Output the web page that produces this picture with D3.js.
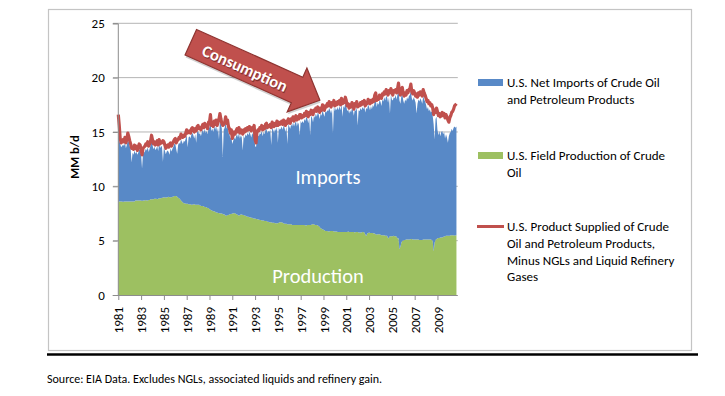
<!DOCTYPE html>
<html><head><meta charset="utf-8">
<script src="https://cdn.jsdelivr.net/npm/d3@7"></script>
<style>body{margin:0;background:#fff}svg{display:block}</style>
</head><body>
<svg id="c" width="725" height="396"></svg>
<script>
const yTicks = [0, 5, 10, 15, 20, 25];
const xTickLabels = ["1981","1983","1985","1987","1989","1991","1993","1995","1997","1999","2001","2003","2005","2007","2009"];
const legendLabels = [
  ["U.S. Net Imports of Crude Oil", "and Petroleum Products"],
  ["U.S. Field Production of Crude", "Oil"],
  ["U.S. Product Supplied of Crude", "Oil and Petroleum Products,", "Minus NGLs and Liquid Refinery", "Gases"]
];
const areaLabels = ["Imports", "Production"];
const arrowLabel = "Consumption";
const yTitle = "MM b/d";
const sourceNote = "Source: EIA Data. Excludes NGLs, associated liquids and refinery gain.";

// monthly, Jan 1981 - Sep 2010 (MM b/d)
const production = [
8.55,8.6,8.6,8.6,8.6,8.55,8.6,8.6,8.6,8.6,8.6,8.6,
8.6,8.6,8.6,8.6,8.6,8.6,8.7,8.7,8.7,8.7,8.7,8.7,
8.7,8.65,8.7,8.7,8.7,8.75,8.7,8.7,8.75,8.75,8.8,8.8,
8.8,8.8,8.85,8.85,8.85,8.8,8.85,8.9,8.9,8.9,8.95,8.95,
9.0,9.0,8.95,9.0,9.0,9.05,9.0,9.0,9.0,9.05,9.05,9.1,
9.1,9.1,9.05,8.95,8.9,8.8,8.7,8.6,8.5,8.45,8.45,8.4,
8.4,8.4,8.35,8.35,8.35,8.3,8.3,8.35,8.35,8.3,8.3,8.3,
8.3,8.3,8.25,8.2,8.2,8.2,8.15,8.1,8.1,8.05,8.0,8.0,
7.9,7.85,7.8,7.75,7.7,7.7,7.65,7.6,7.6,7.55,7.55,7.5,
7.5,7.5,7.45,7.4,7.4,7.3,7.3,7.35,7.35,7.4,7.45,7.45,
7.5,7.5,7.55,7.5,7.45,7.4,7.35,7.3,7.35,7.4,7.4,7.35,
7.35,7.3,7.3,7.25,7.2,7.2,7.15,7.15,7.1,7.1,7.05,7.05,
7.05,7.0,7.0,6.95,6.95,6.9,6.9,6.85,6.85,6.85,6.8,6.8,
6.8,6.75,6.75,6.7,6.7,6.7,6.65,6.65,6.65,6.6,6.6,6.6,
6.6,6.65,6.7,6.7,6.7,6.65,6.6,6.55,6.55,6.55,6.5,6.5,
6.5,6.5,6.5,6.45,6.45,6.45,6.45,6.45,6.45,6.45,6.45,6.45,
6.45,6.45,6.45,6.45,6.45,6.4,6.4,6.45,6.45,6.45,6.45,6.45,
6.5,6.5,6.5,6.45,6.45,6.45,6.4,6.35,6.25,6.15,6.1,6.05,
6.0,5.95,5.9,5.9,5.9,5.85,5.85,5.9,5.9,5.9,5.9,5.85,
5.85,5.85,5.85,5.8,5.8,5.8,5.8,5.8,5.8,5.8,5.8,5.8,
5.8,5.8,5.85,5.8,5.8,5.8,5.8,5.8,5.8,5.75,5.8,5.8,
5.8,5.75,5.75,5.75,5.75,5.8,5.8,5.75,5.6,5.4,5.65,5.7,
5.75,5.7,5.7,5.7,5.7,5.65,5.65,5.6,5.55,5.6,5.6,5.6,
5.55,5.5,5.5,5.5,5.5,5.45,5.45,5.45,5.2,5.3,5.4,5.4,
5.4,5.4,5.45,5.4,5.4,5.35,5.2,5.25,4.2,4.45,4.8,5.0,
5.0,5.05,5.05,5.1,5.1,5.1,5.1,5.1,5.15,5.15,5.1,5.1,
5.1,5.1,5.1,5.1,5.1,5.05,5.05,5.05,5.05,5.1,5.1,5.1,
5.1,5.1,5.1,5.1,5.1,5.1,5.05,5.0,4.0,4.8,5.05,5.15,
5.2,5.25,5.25,5.3,5.3,5.3,5.35,5.35,5.4,5.45,5.45,5.45,
5.45,5.45,5.5,5.5,5.5,5.5,5.45,5.5,5.5
];
const netImports = [
6.3,5.6,5.3,5.0,5.1,5.3,5.1,5.4,4.9,5.2,5.7,5.5,
5.1,4.8,3.6,4.5,4.3,4.7,4.3,4.5,4.2,4.4,4.7,4.6,
4.2,3.0,4.3,4.4,4.5,4.7,4.6,4.9,4.4,4.7,5.0,5.4,
5.0,4.6,4.8,4.5,4.6,4.9,4.4,5.0,4.6,4.8,4.7,3.3,
4.6,4.3,4.0,4.2,4.3,4.1,3.9,4.5,4.2,4.4,4.6,4.8,
4.8,4.3,3.95,4.85,5.1,5.1,5.6,5.5,5.4,5.75,5.65,6.0,
6.3,5.2,6.15,6.25,6.05,6.5,6.6,6.35,6.05,6.5,5.7,6.7,
6.8,6.5,6.65,6.4,6.8,7.0,6.75,7.2,6.8,7.05,6.8,7.4,
7.5,8.15,7.3,7.55,7.3,7.8,7.55,8.0,7.4,7.85,6.75,8.6,
8.2,7.8,5.25,7.8,8.0,8.6,8.0,8.25,7.55,7.4,6.95,7.15,
6.4,6.7,6.95,6.8,7.15,7.4,7.15,7.6,7.05,7.3,7.1,5.95,
7.35,7.1,7.5,7.35,7.7,7.5,7.85,7.65,7.4,7.8,7.65,8.05,
6.65,6.6,7.5,7.75,7.65,8.0,7.9,8.25,7.75,8.15,8.0,8.4,
8.5,8.15,8.35,8.3,8.5,7.1,8.75,8.55,8.25,8.7,8.5,8.9,
7.4,8.75,8.5,8.6,8.8,8.55,9.0,8.85,8.45,8.95,7.4,9.2,
9.0,8.8,9.2,9.05,9.45,9.05,9.35,9.55,9.05,9.45,9.25,8.25,
9.55,9.35,9.55,9.35,9.75,9.6,10.0,9.75,9.35,9.85,8.25,10.05,
9.8,9.4,10.0,9.85,10.25,9.95,10.4,10.25,9.95,10.55,10.4,10.95,
10.7,10.45,11.0,10.9,11.1,11.05,11.35,11.1,10.8,11.2,9.0,11.55,
11.05,11.35,11.15,11.5,11.2,11.6,11.2,11.8,10.6,11.6,11.4,11.9,
11.6,11.1,11.25,10.9,11.2,11.0,11.4,11.2,10.7,11.35,11.1,11.5,
9.8,11.25,11.15,11.45,11.25,11.5,11.3,11.65,11.2,11.8,11.45,11.8,
11.55,11.3,11.7,11.4,11.8,11.65,12.25,12.5,11.75,12.1,11.9,12.3,
12.25,11.9,12.5,12.3,12.7,12.45,12.85,12.75,12.5,12.9,11.3,13.0,
12.6,12.5,12.75,12.7,13.0,12.65,13.3,13.65,13.7,13.15,13.5,13.5,
12.9,12.55,12.95,12.7,13.1,12.9,13.2,13.3,13.65,12.95,12.8,13.1,
12.9,12.6,11.6,12.5,12.9,12.75,13.05,12.85,12.55,13.2,12.9,12.7,
12.4,12.0,12.2,11.8,12.0,11.7,11.85,11.5,11.7,9.5,11.15,11.25,
10.0,9.45,9.85,9.3,9.7,9.8,9.45,9.65,9.0,9.35,9.05,8.55,
9.15,9.45,9.5,9.8,9.6,9.9,10.05,9.9,10.0
];
const consumption = [
16.6,15.6,14.4,14.0,14.1,14.3,14.1,14.5,14.0,14.3,14.9,14.6,
14.2,13.9,13.5,13.6,13.4,13.8,13.5,13.7,13.3,13.6,13.9,13.8,
13.4,12.9,13.5,13.6,13.7,13.9,13.8,14.1,13.7,13.9,14.2,14.7,
14.3,13.9,14.1,13.8,13.9,14.2,13.8,14.3,13.9,14.1,14.0,14.2,
14.1,13.8,13.5,13.7,13.8,13.6,13.9,14.0,13.7,13.9,14.1,14.3,
14.4,14.0,14.2,14.3,14.5,14.4,14.8,14.6,14.5,14.7,14.6,14.9,
15.2,14.9,15.0,15.1,14.9,15.3,15.4,15.2,15.0,15.3,15.1,15.5,
15.6,15.3,15.4,15.2,15.5,15.7,15.4,15.8,15.5,15.6,15.3,15.9,
15.9,16.6,15.6,15.8,15.5,16.0,15.7,16.1,15.6,15.9,16.2,16.7,
16.2,15.8,15.6,15.7,15.9,16.4,15.8,16.1,15.5,15.3,14.9,15.2,
14.4,14.7,15.0,14.8,15.1,15.3,15.0,15.4,14.9,15.2,15.0,14.8,
15.2,15.0,15.3,15.1,15.4,15.2,15.5,15.3,15.1,15.4,15.2,15.6,
14.3,14.0,15.0,15.2,15.1,15.4,15.3,15.6,15.2,15.5,15.3,15.7,
15.8,15.4,15.6,15.5,15.7,15.4,15.9,15.7,15.5,15.8,15.6,16.0,
15.6,15.9,15.7,15.8,16.0,15.7,16.1,15.9,15.6,16.0,15.8,16.2,
16.0,15.8,16.2,16.1,16.4,16.0,16.3,16.5,16.1,16.4,16.2,16.6,
16.6,16.3,16.5,16.4,16.7,16.5,16.9,16.7,16.4,16.8,16.6,17.0,
16.8,16.6,17.0,16.9,17.2,16.9,17.3,17.1,16.8,17.2,17.0,17.5,
17.2,17.0,17.4,17.3,17.6,17.4,17.8,17.5,17.3,17.7,17.5,17.9,
17.4,17.7,17.5,17.8,17.6,17.9,17.5,18.1,17.6,17.9,17.7,18.2,
17.9,17.4,17.6,17.2,17.5,17.3,17.7,17.5,17.1,17.6,17.4,17.8,
17.3,17.5,17.4,17.7,17.5,17.8,17.6,17.9,17.4,17.7,17.6,18.0,
17.8,17.6,17.9,17.7,18.0,17.8,18.4,18.6,17.9,18.2,18.0,18.4,
18.3,18.1,18.5,18.4,18.7,18.5,18.9,18.7,18.4,18.8,18.6,19.0,
18.6,18.4,18.8,18.7,18.9,18.6,19.0,19.5,18.7,18.4,18.9,19.1,
18.5,18.3,18.6,18.4,18.8,18.6,18.9,19.0,19.4,18.7,18.5,18.8,
18.6,18.3,18.5,18.2,18.6,18.4,18.7,18.5,18.3,18.9,18.6,18.4,
18.1,17.8,17.9,17.6,17.7,17.4,17.5,17.2,16.6,17.0,16.8,17.2,
16.9,16.5,16.7,16.4,16.6,16.8,16.5,16.7,16.3,16.6,16.4,16.1,
15.9,16.3,16.5,16.8,16.9,17.1,17.4,17.5,17.6
];

const colors = { imports: "#5889C7", production: "#9DC061", consumption: "#C0504D" };
const FONT = "Carlito, Lato, 'Open Sans', sans-serif";

const svg = d3.select("#c").style("font-family", FONT);
const n = consumption.length;
const x = d3.scaleLinear().domain([0, 357]).range([118.3, 457.4]);
const y = d3.scaleLinear().domain([0, 25]).range([295, 23.3]);

// outer frame
svg.append("rect").attr("x", 48.5).attr("y", 9.5).attr("width", 643).attr("height", 341)
  .attr("fill", "#fff").attr("stroke", "#c4c4c4").attr("stroke-width", 1.2);

// gridlines
svg.append("g").selectAll("line").data(yTicks.filter(d => d > 0)).join("line")
  .attr("x1", 113).attr("x2", 457.8).attr("y1", d => y(d)).attr("y2", d => y(d))
  .attr("stroke", "#b4b4b4").attr("stroke-width", 1);

// stacked areas
const rows = d3.range(n).map(i => ({ i, production: production[i], imports: netImports[i] }));
const stack = d3.stack().keys(["production", "imports"])(rows);
const area = d3.area().x(d => x(d.data.i)).y0(d => y(d[0])).y1(d => y(d[1])).curve(d3.curveLinear);
svg.append("g").selectAll("path").data(stack).join("path")
  .attr("d", area).attr("fill", d => d.key === "production" ? colors.production : colors.imports);

// consumption line
svg.append("path").datum(consumption)
  .attr("d", d3.line().x((d, i) => x(i)).y(d => y(d)))
  .attr("fill", "none").attr("stroke", colors.consumption).attr("stroke-width", 3.2)
  .attr("stroke-linejoin", "round");

// y axis
const yAxis = svg.append("g").attr("transform", "translate(117.8,0)")
  .call(d3.axisLeft(y).tickValues(yTicks).tickSize(5).tickPadding(8));
yAxis.select(".domain").attr("stroke", "#8c8c8c");
yAxis.selectAll(".tick line").attr("stroke", "#8c8c8c");
yAxis.selectAll("text").attr("font-size", 13).attr("fill", "#000").attr("font-family", FONT);

// x axis
const xTickVals = xTickLabels.map((d, k) => k * 24);
const xAxis = svg.append("g").attr("transform", "translate(0,295)")
  .call(d3.axisBottom(x).tickValues(xTickVals).tickFormat((d, k) => xTickLabels[k]).tickSize(5));
xAxis.select(".domain").attr("stroke", "#8c8c8c").attr("d", "M118.3,0.5H457.8");
xAxis.selectAll(".tick line").attr("stroke", "#8c8c8c");
xAxis.selectAll("text").attr("font-size", 13).attr("fill", "#000").attr("font-family", FONT)
  .attr("transform", "rotate(-90)").attr("text-anchor", "end").attr("dy", "0.35em")
  .attr("x", -12).attr("y", 0);

// y title
svg.append("text").attr("transform", "translate(79,157) rotate(-90)")
  .attr("text-anchor", "middle").attr("font-size", 12.5).attr("font-weight", "bold")
  .text(yTitle);

// area labels
svg.append("text").attr("x", 328).attr("y", 184).attr("text-anchor", "middle")
  .attr("fill", "#fff").attr("font-size", 20.5).text(areaLabels[0]);
svg.append("text").attr("x", 318).attr("y", 283).attr("text-anchor", "middle")
  .attr("fill", "#fff").attr("font-size", 20.5).text(areaLabels[1]);

// arrow
const L = 141.5, hs = 14, hh = 24, hl = 25;
const arrowPts = [[0, -hs], [L - hl, -hs], [L - hl, -hh], [L, 0], [L - hl, hh], [L - hl, hs], [0, hs]];
const ag = svg.append("g").attr("transform", "translate(190.8,42.2) rotate(24.2)");
ag.append("polygon").attr("points", arrowPts.map(p => [p[0] + 1.5, p[1] + 2].join(",")).join(" "))
  .attr("fill", "#000").attr("opacity", 0.18);
ag.append("polygon").attr("points", arrowPts.map(p => p.join(",")).join(" "))
  .attr("fill", colors.consumption).attr("stroke", "#8E3431").attr("stroke-width", 1.2);
ag.append("text").attr("x", 60).attr("y", 1.5).attr("text-anchor", "middle").attr("dy", "0.35em")
  .attr("font-size", 16.5).attr("font-weight", "bold").attr("fill", "#5a1a18").attr("opacity", 0.6)
  .attr("transform", "translate(1,1)").text(arrowLabel);
ag.append("text").attr("x", 60).attr("y", 1.5).attr("text-anchor", "middle").attr("dy", "0.35em")
  .attr("font-size", 16.5).attr("font-weight", "bold").attr("fill", "#fff").text(arrowLabel);

// legend
const lg = svg.append("g").attr("font-size", 13).attr("fill", "#000");
const legendY = [82.5, 155.5, 226.5];
lg.append("rect").attr("x", 478).attr("y", legendY[0] - 3.5).attr("width", 25).attr("height", 7).attr("fill", colors.imports);
lg.append("rect").attr("x", 478).attr("y", legendY[1] - 3.5).attr("width", 25).attr("height", 7).attr("fill", colors.production);
lg.append("line").attr("x1", 477).attr("x2", 504).attr("y1", legendY[2]).attr("y2", legendY[2])
  .attr("stroke", colors.consumption).attr("stroke-width", 3);
legendLabels.forEach((lines, k) => {
  lines.forEach((t, j) => {
    lg.append("text").attr("x", 507).attr("y", legendY[k] + j * 16.8).attr("dy", "0.35em").text(t);
  });
});

// bottom rule and source
svg.append("line").attr("x1", 47).attr("x2", 698).attr("y1", 354.5).attr("y2", 354.5)
  .attr("stroke", "#000").attr("stroke-width", 2.5);
svg.append("text").attr("x", 47).attr("y", 379).attr("dy", "0.35em").attr("font-size", 12)
  .text(sourceNote);
</script>
</body></html>
